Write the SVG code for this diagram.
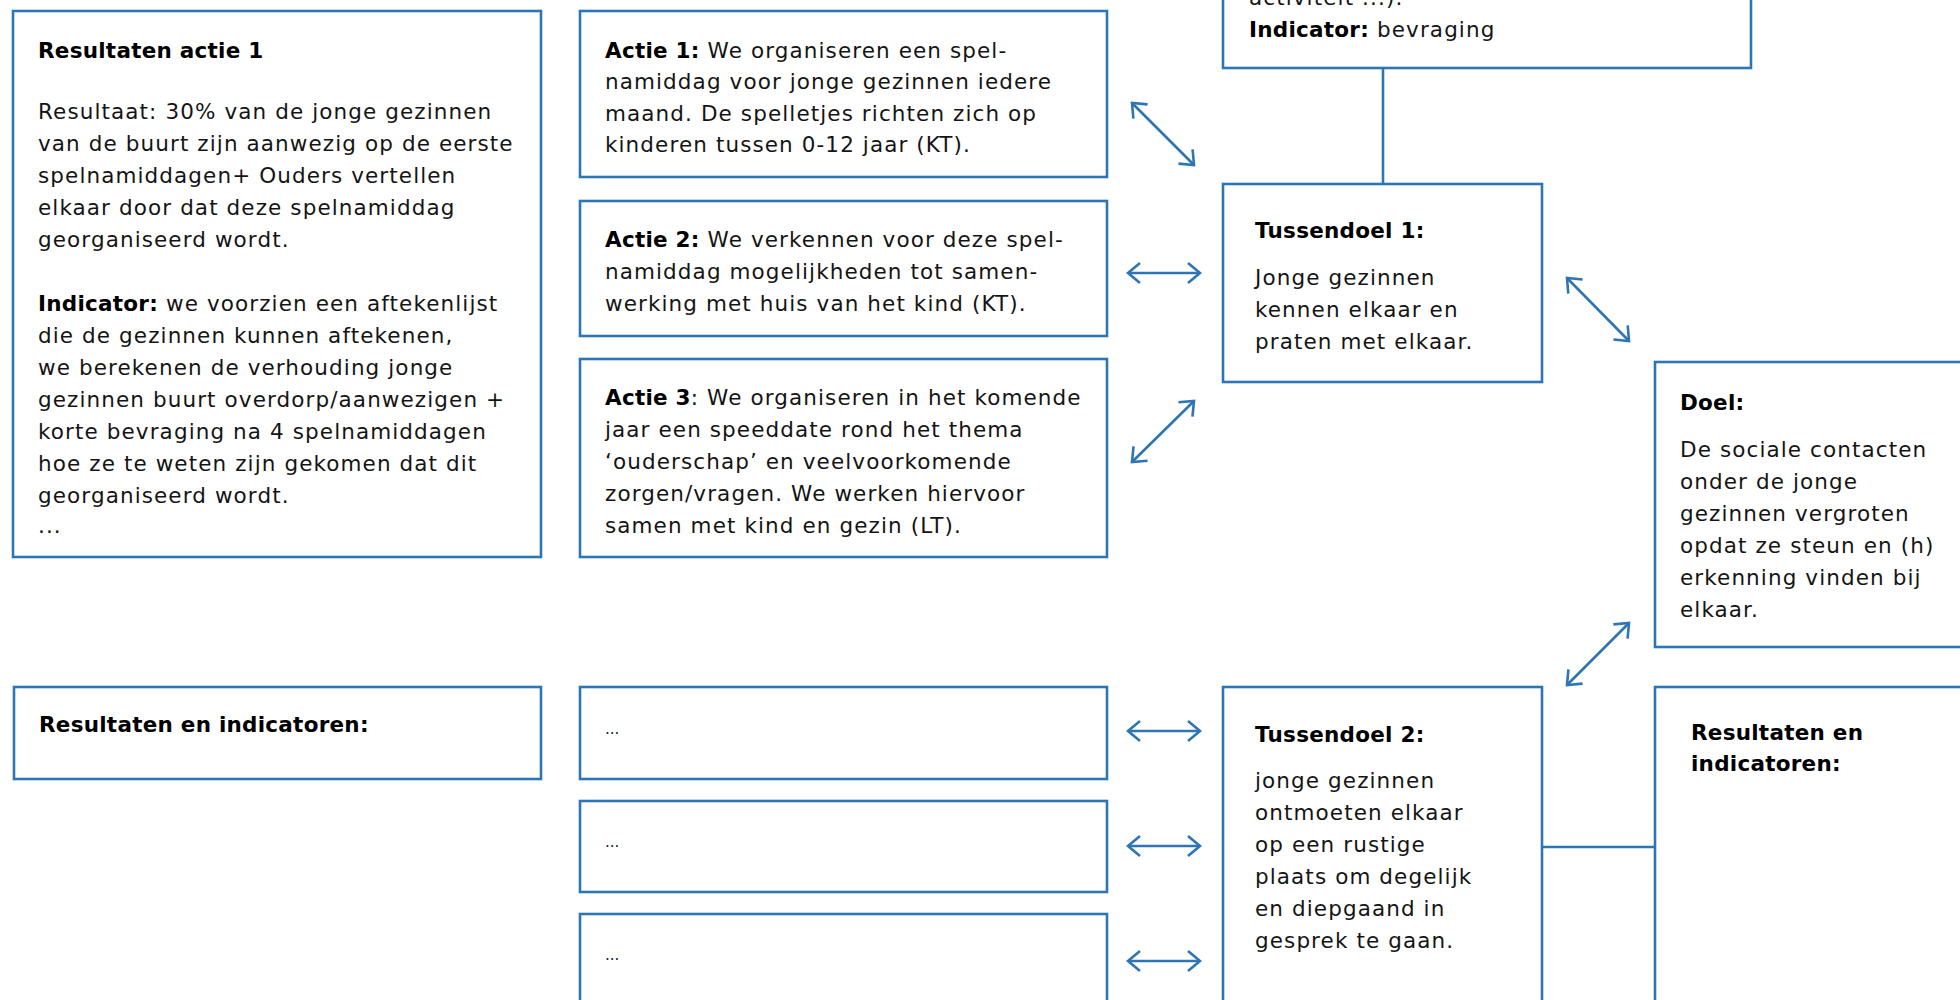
<svg xmlns="http://www.w3.org/2000/svg" width="1960" height="1000" viewBox="0 0 1960 1000">
<defs>
<style>
.box{fill:#fff;stroke:#2E75B6;stroke-width:2.6}
.t{font-family:"DejaVu Sans","Liberation Sans",sans-serif;font-size:21.5px;fill:#141414;letter-spacing:1.1px}
.b{font-weight:bold;fill:#000;letter-spacing:0.25px}
.dots{font-family:"DejaVu Sans","Liberation Sans",sans-serif;font-size:15px;fill:#1a1a1a}
.con{fill:none;stroke:#2E75B6;stroke-width:2.6}
.arr{fill:none;stroke:#2E75B6;stroke-width:2.6;marker-start:url(#head);marker-end:url(#head)}
</style>
<marker id="head" markerUnits="userSpaceOnUse" markerWidth="20" markerHeight="24" refX="13" refY="11" orient="auto-start-reverse" overflow="visible">
<path d="M1,1 L13,11 L1,21" fill="none" stroke="#2E75B6" stroke-width="2.6"/>
</marker>
</defs>
<rect width="1960" height="1000" fill="#fff"/>

<g id="resultaten-actie-1">
<rect class="box" x="13" y="11" width="528" height="546"/>
<text class="t"><tspan class="b" x="38" y="58">Resultaten actie 1</tspan>
<tspan x="38" y="119">Resultaat: 30% van de jonge gezinnen</tspan>
<tspan x="38" y="151">van de buurt zijn aanwezig op de eerste</tspan>
<tspan x="38" y="183">spelnamiddagen+ Ouders vertellen</tspan>
<tspan x="38" y="215">elkaar door dat deze spelnamiddag</tspan>
<tspan x="38" y="247">georganiseerd wordt.</tspan>
<tspan x="38" y="311" class="b">Indicator:</tspan><tspan> we voorzien een aftekenlijst</tspan>
<tspan x="38" y="343">die de gezinnen kunnen aftekenen,</tspan>
<tspan x="38" y="375">we berekenen de verhouding jonge</tspan>
<tspan x="38" y="407">gezinnen buurt overdorp/aanwezigen +</tspan>
<tspan x="38" y="439">korte bevraging na 4 spelnamiddagen</tspan>
<tspan x="38" y="471">hoe ze te weten zijn gekomen dat dit</tspan>
<tspan x="38" y="503">georganiseerd wordt.</tspan>
<tspan x="38" y="533">...</tspan></text>
</g>

<g id="actie-1">
<rect class="box" x="580" y="11" width="527" height="166"/>
<text class="t"><tspan x="605" y="58" class="b">Actie 1:</tspan><tspan> We organiseren een spel-</tspan>
<tspan x="605" y="89">namiddag voor jonge gezinnen iedere</tspan>
<tspan x="605" y="121">maand. De spelletjes richten zich op</tspan>
<tspan x="605" y="152">kinderen tussen 0-12 jaar (KT).</tspan></text>
</g>

<g id="actie-2">
<rect class="box" x="580" y="201" width="527" height="135"/>
<text class="t"><tspan x="605" y="247" class="b">Actie 2:</tspan><tspan> We verkennen voor deze spel-</tspan>
<tspan x="605" y="279">namiddag mogelijkheden tot samen-</tspan>
<tspan x="605" y="311">werking met huis van het kind (KT).</tspan></text>
</g>

<g id="actie-3">
<rect class="box" x="580" y="359" width="527" height="198"/>
<text class="t"><tspan x="605" y="405" class="b">Actie 3</tspan><tspan>: We organiseren in het komende</tspan>
<tspan x="605" y="437">jaar een speeddate rond het thema</tspan>
<tspan x="605" y="469">‘ouderschap’ en veelvoorkomende</tspan>
<tspan x="605" y="501">zorgen/vragen. We werken hiervoor</tspan>
<tspan x="605" y="533">samen met kind en gezin (LT).</tspan></text>
</g>

<g id="indicator-top">
<rect class="box" x="1223" y="-60" width="528" height="128"/>
<text class="t"><tspan x="1249" y="5">activiteit ...).</tspan>
<tspan x="1249" y="37" class="b">Indicator:</tspan><tspan> bevraging</tspan></text>
</g>

<g id="tussendoel-1">
<rect class="box" x="1223" y="184" width="319" height="198"/>
<text class="t"><tspan x="1255" y="238" class="b">Tussendoel 1:</tspan>
<tspan x="1255" y="285">Jonge gezinnen</tspan>
<tspan x="1255" y="317">kennen elkaar en</tspan>
<tspan x="1255" y="349">praten met elkaar.</tspan></text>
</g>

<g id="doel">
<rect class="box" x="1655" y="362" width="340" height="285"/>
<text class="t"><tspan x="1680" y="410" class="b">Doel:</tspan>
<tspan x="1680" y="457">De sociale contacten</tspan>
<tspan x="1680" y="489">onder de jonge</tspan>
<tspan x="1680" y="521">gezinnen vergroten</tspan>
<tspan x="1680" y="553">opdat ze steun en (h)</tspan>
<tspan x="1680" y="585">erkenning vinden bij</tspan>
<tspan x="1680" y="617">elkaar.</tspan></text>
</g>

<g id="resultaten-indicatoren-links">
<rect class="box" x="14" y="687" width="527" height="92"/>
<text class="t b" x="39" y="732">Resultaten en indicatoren:</text>
</g>

<g id="actie-4">
<rect class="box" x="580" y="687" width="527" height="92"/>
<text class="dots" x="605" y="734">...</text>
</g>
<g id="actie-5">
<rect class="box" x="580" y="801" width="527" height="91"/>
<text class="dots" x="605" y="847">...</text>
</g>
<g id="actie-6">
<rect class="box" x="580" y="914" width="527" height="120"/>
<text class="dots" x="605" y="960">...</text>
</g>

<g id="tussendoel-2">
<rect class="box" x="1223" y="687" width="319" height="350"/>
<text class="t"><tspan x="1255" y="742" class="b">Tussendoel 2:</tspan>
<tspan x="1255" y="788">jonge gezinnen</tspan>
<tspan x="1255" y="820">ontmoeten elkaar</tspan>
<tspan x="1255" y="852">op een rustige</tspan>
<tspan x="1255" y="884">plaats om degelijk</tspan>
<tspan x="1255" y="916">en diepgaand in</tspan>
<tspan x="1255" y="948">gesprek te gaan.</tspan></text>
</g>

<g id="resultaten-indicatoren-rechts">
<rect class="box" x="1655" y="687" width="340" height="350"/>
<text class="t b"><tspan x="1691" y="740">Resultaten en</tspan>
<tspan x="1691" y="771">indicatoren:</tspan></text>
</g>

<g id="connectors">
<line class="con" x1="1383" y1="68" x2="1383" y2="184"/>
<line class="con" x1="1542" y1="847" x2="1655" y2="847"/>
<line class="arr" x1="1132" y1="103" x2="1194" y2="165"/>
<line class="arr" x1="1128" y1="273" x2="1200" y2="273"/>
<line class="arr" x1="1132" y1="462" x2="1194" y2="401"/>
<line class="arr" x1="1567" y1="278" x2="1629" y2="341"/>
<line class="arr" x1="1629" y1="623" x2="1567" y2="685"/>
<line class="arr" x1="1128" y1="731" x2="1200" y2="731"/>
<line class="arr" x1="1128" y1="846" x2="1200" y2="846"/>
<line class="arr" x1="1128" y1="961" x2="1200" y2="961"/>
</g>
</svg>
